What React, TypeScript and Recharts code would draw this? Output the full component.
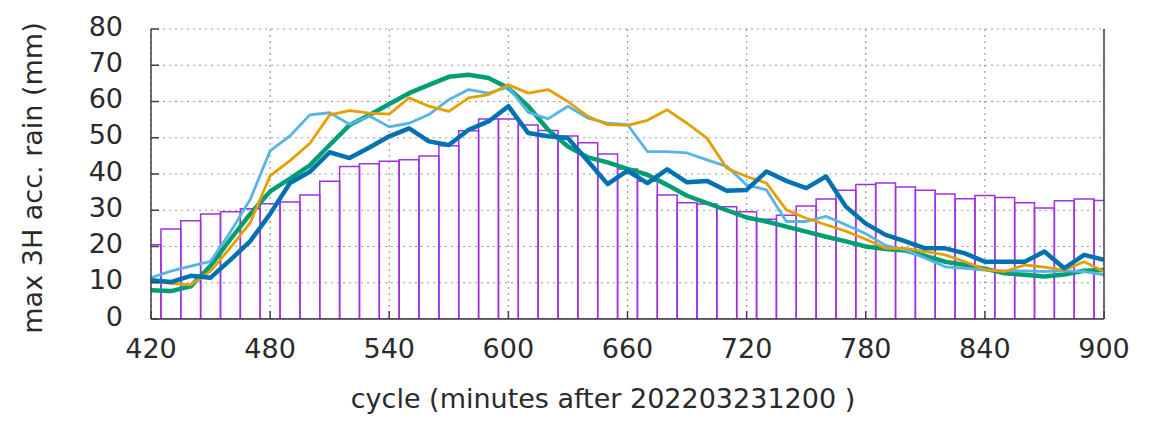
import { ComposedChart, Bar, Line, XAxis, YAxis, CartesianGrid, Label } from "recharts";

// cycle minutes, one bar and one point per 10 min
const minutes = [
  420, 430, 440, 450, 460, 470, 480, 490, 500, 510, 520, 530, 540, 550, 560, 570, 580,
  590, 600, 610, 620, 630, 640, 650, 660, 670, 680, 690, 700, 710, 720, 730, 740, 750,
  760, 770, 780, 790, 800, 810, 820, 830, 840, 850, 860, 870, 880, 890, 900,
];

// purple boxes
const boxValues = [
  20.5, 24.8, 27.1, 29.0, 29.6, 30.4, 31.8, 32.3, 34.2, 38.0, 42.1, 42.8, 43.5, 43.9, 45.0, 47.8, 51.9,
  55.2, 55.2, 53.5, 52.0, 50.5, 48.6, 45.5, 41.4, 38.0, 34.2, 32.1, 31.7, 31.0, 29.6, 27.5, 28.6, 31.2,
  33.1, 35.5, 37.1, 37.5, 36.4, 35.5, 34.5, 33.2, 34.1, 33.5, 32.1, 30.6, 32.6, 33.1, 32.7,
];

const greenValues = [
  7.9, 7.7, 9.0, 14.7, 22.0, 29.0, 35.2, 38.7, 42.4, 48.0, 53.5, 56.3, 59.3, 62.3, 64.6, 66.8, 67.4,
  66.5, 63.7, 58.7, 52.2, 47.6, 44.6, 43.2, 41.4, 39.8, 37.0, 34.0, 32.0, 30.0, 28.0, 26.9, 25.5, 24.1,
  22.7, 21.4, 20.0, 19.3, 18.9, 17.4, 15.8, 14.9, 13.9, 12.6, 12.2, 11.7, 12.3, 13.3, 13.5,
];

const skyValues = [
  11.4, 13.2, 14.6, 15.9, 24.0, 33.0, 46.4, 50.5, 56.3, 56.9, 53.7, 56.0, 53.0, 54.0, 56.4, 60.5, 63.3,
  62.3, 64.0, 57.0, 55.2, 58.7, 55.4, 54.0, 53.6, 46.2, 46.2, 45.8, 43.9, 42.1, 37.0, 35.6, 26.9, 26.9,
  28.3, 26.0, 23.5, 20.3, 19.0, 16.8, 14.4, 14.0, 13.5, 13.3, 13.3, 13.1, 13.3, 13.1, 12.2,
];

const orangeValues = [
  10.5, 9.8, 9.4, 13.2, 19.7, 26.6, 39.5, 43.7, 48.4, 56.3, 57.5, 56.8, 56.5, 61.0, 58.7, 57.3, 61.0,
  61.9, 64.6, 62.3, 63.3, 60.0, 55.9, 53.6, 53.4, 54.8, 57.7, 54.0, 49.9, 41.6, 39.3, 37.5, 30.1, 27.8,
  26.0, 24.2, 22.0, 19.5, 19.5, 18.6, 17.7, 15.8, 13.7, 13.1, 14.9, 14.3, 13.5, 15.8, 13.1,
];

const blueValues = [
  10.7, 10.2, 11.9, 11.4, 16.3, 21.5, 29.0, 37.5, 40.6, 46.0, 44.4, 47.3, 50.4, 52.6, 49.0, 48.0, 52.2,
  54.5, 58.7, 51.3, 50.4, 49.9, 43.6, 37.2, 40.9, 37.5, 41.3, 37.7, 38.1, 35.4, 35.6, 40.7, 38.1, 36.1,
  39.3, 31.0, 26.3, 23.2, 21.4, 19.5, 19.5, 18.1, 15.8, 15.8, 15.8, 18.6, 14.0, 17.7, 16.3,
];

const xTicks = [420, 480, 540, 600, 660, 720, 780, 840, 900];
const yTicks = [0, 10, 20, 30, 40, 50, 60, 70, 80];

const data = minutes.map((m, i) => ({
  minute: m,
  box: boxValues[i],
  green: greenValues[i],
  sky: skyValues[i],
  orange: orangeValues[i],
  blue: blueValues[i],
}));

const FONT = "'DejaVu Sans', sans-serif";
const TEXT = "#2a2a2a";
const FRAME = "#404040";

const XTick = ({ x, payload }: any) => (
  <text x={x} y={358} textAnchor="middle" fontSize={27} fontFamily={FONT} fill={TEXT}>
    {payload.value}
  </text>
);

const YTick = ({ y, payload }: any) => (
  <text x={123} y={y + 6.5} textAnchor="end" fontSize={27} fontFamily={FONT} fill={TEXT}>
    {payload.value}
  </text>
);

const Empty = () => <g />;

export default function App() {
  return (
    <div style={{ position: "absolute", left: 0, top: 0, width: 1160, height: 421, background: "#fff" }}>
      <ComposedChart
        width={1160}
        height={421}
        data={data}
        margin={{ top: 29, right: 0, bottom: 0, left: 0 }}
        barCategoryGap={0}
        barGap={0}
      >
        <CartesianGrid stroke="#9a9a9a" strokeWidth={1.2} strokeDasharray="2 4" />
        <XAxis
          dataKey="minute"
          type="number"
          domain={[420, 900]}
          ticks={xTicks}
          interval={0}
          allowDataOverflow
          height={102}
          axisLine={{ stroke: FRAME, strokeWidth: 1.5 }}
          tickLine={{ stroke: FRAME, strokeWidth: 1.5 }}
          tickSize={-8}
          tick={<XTick />}
        >
          <Label
            content={() => (
              <text x={603} y={408} textAnchor="middle" fontSize={27} fontFamily={FONT} fill={TEXT}>
                cycle (minutes after 202203231200 )
              </text>
            )}
          />
        </XAxis>
        <XAxis
          xAxisId="top"
          dataKey="minute"
          orientation="top"
          type="number"
          domain={[420, 900]}
          ticks={xTicks}
          interval={0}
          height={0}
          axisLine={{ stroke: FRAME, strokeWidth: 1.5 }}
          tickLine={{ stroke: FRAME, strokeWidth: 1.5 }}
          tickSize={-8}
          tick={<Empty />}
        />
        <YAxis
          type="number"
          domain={[0, 80]}
          ticks={yTicks}
          interval={0}
          allowDataOverflow
          width={151}
          axisLine={{ stroke: FRAME, strokeWidth: 1.5 }}
          tickLine={{ stroke: FRAME, strokeWidth: 1.5 }}
          tickSize={-8}
          tick={<YTick />}
        >
          <Label
            content={() => (
              <text
                x={42}
                y={178}
                transform="rotate(-90, 42, 178)"
                textAnchor="middle"
                fontSize={27}
                fontFamily={FONT}
                fill={TEXT}
              >
                max 3H acc. rain (mm)
              </text>
            )}
          />
        </YAxis>
        <YAxis
          yAxisId="right"
          orientation="right"
          type="number"
          domain={[0, 80]}
          ticks={yTicks}
          interval={0}
          width={56}
          axisLine={{ stroke: FRAME, strokeWidth: 1.5 }}
          tickLine={{ stroke: FRAME, strokeWidth: 1.5 }}
          tickSize={-8}
          tick={<Empty />}
        />
        <Bar
          dataKey="box"
          fill="none"
          stroke="#a030e0"
          strokeWidth={1.5}
          barSize={19.85}
          isAnimationActive={false}
        />
        <Line type="linear" dataKey="green" stroke="#009e73" strokeWidth={4.5} strokeLinejoin="round" dot={false} isAnimationActive={false} />
        <Line type="linear" dataKey="sky" stroke="#56b4e9" strokeWidth={2.8} strokeLinejoin="round" dot={false} isAnimationActive={false} />
        <Line type="linear" dataKey="orange" stroke="#e69f00" strokeWidth={2.8} strokeLinejoin="round" dot={false} isAnimationActive={false} />
        <Line type="linear" dataKey="blue" stroke="#0072b2" strokeWidth={4.5} strokeLinejoin="round" dot={false} isAnimationActive={false} />
      </ComposedChart>
    </div>
  );
}
